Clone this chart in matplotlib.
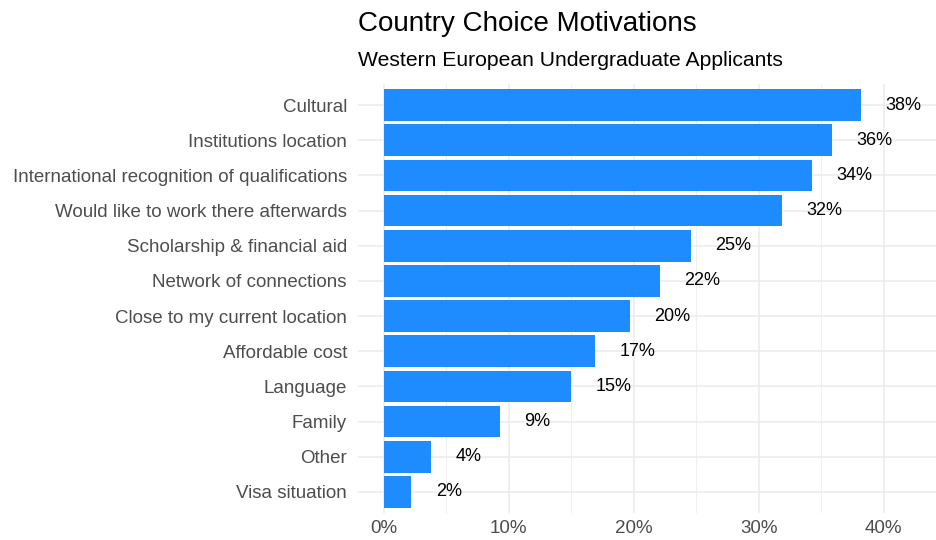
import matplotlib
matplotlib.use("Agg")
import matplotlib.pyplot as plt
from matplotlib.ticker import MultipleLocator, FuncFormatter

categories = ["Cultural", "Institutions location", "International recognition of qualifications",
              "Would like to work there afterwards", "Scholarship & financial aid",
              "Network of connections", "Close to my current location", "Affordable cost",
              "Language", "Family", "Other", "Visa situation"]
values = [38.2, 35.9, 34.3, 31.9, 24.6, 22.1, 19.7, 16.9, 15.0, 9.3, 3.8, 2.2]
value_labels = ["38%", "36%", "34%", "32%", "25%", "22%", "20%", "17%", "15%", "9%", "4%", "2%"]
title = "Country Choice Motivations"
subtitle = "Western European Undergraduate Applicants"

plt.rcParams['font.family'] = ['Liberation Sans', 'DejaVu Sans']

W, H = 936, 540
fig = plt.figure(figsize=(W / 100, H / 100), dpi=100)
left, right, top, bottom = 358, 936, 84, 513
ax = fig.add_axes([left / W, 1 - bottom / H, (right - left) / W, (bottom - top) / H])

n = len(categories)
ypos = list(range(n))
ax.barh(ypos, values, height=0.9, color="#1E8BFF", zorder=3)
for y, v, lab in zip(ypos, values, value_labels):
    ax.text(v + 1.95, y, lab, ha="left", va="center", fontsize=13, color="black", zorder=4)

ax.set_yticks(ypos)
ax.set_yticklabels(categories)
ax.set_ylim(n - 1 + 0.6, -0.6)
ax.set_xlim(-2.08, 44.2)
ax.xaxis.set_major_locator(MultipleLocator(10))
ax.xaxis.set_minor_locator(MultipleLocator(5))
ax.xaxis.set_major_formatter(FuncFormatter(lambda x, p: f"{x:.0f}%"))

ax.grid(True, which="major", axis="both", color="#EBEBEB", linewidth=1.1, zorder=0)
ax.grid(True, which="minor", axis="x", color="#EFEFEF", linewidth=0.8, zorder=0)
for s in ax.spines.values():
    s.set_visible(False)
ax.tick_params(axis="both", which="both", length=0, labelsize=13.5, colors="#4D4D4D")
ax.tick_params(axis="y", pad=8)
ax.tick_params(axis="x", pad=5)
ax.set_facecolor("white")

fig.text(left / W, 1 - 24 / H, title, fontsize=20, ha="left", va="center", color="black")
fig.text(left / W, 1 - 61 / H, subtitle, fontsize=15.2, ha="left", va="center", color="black")

fig.savefig("out.png", dpi=100, facecolor="white")
